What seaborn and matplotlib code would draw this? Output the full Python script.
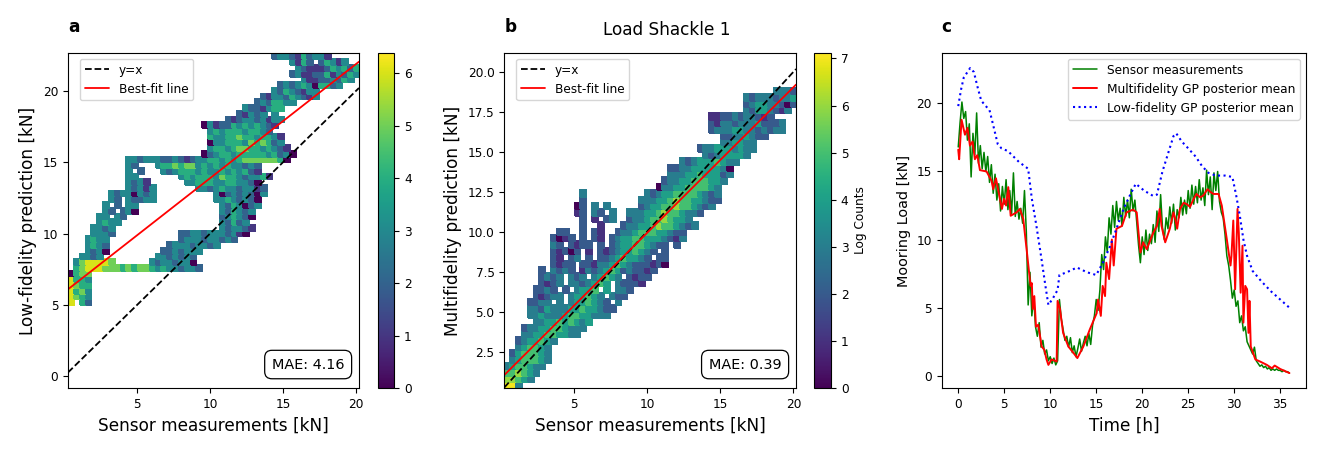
import numpy as np
import pandas as pd
import seaborn as sns
import matplotlib.pyplot as plt
from matplotlib.ticker import FormatStrFormatter

# ---------------- data ----------------
# 2D histograms: log counts in 0.4 kN cells, given as (row, first column, levels), '.' = empty
cell = 0.4

# panel a: sensor measurements vs low-fidelity prediction
lf_x0, lf_y0, lf_ncols, lf_nrows = 0.27, 5.0, 50, 44
lf_log_max = 6.39
lf_cells = [
    (43, 35, "2332142331"),
    (42, 38, "3142"), (42, 43, "24313"),
    (41, 39, "32111243424"),
    (40, 38, "231122413243"),
    (39, 40, "311223243"),
    (38, 36, "23234304423"),
    (37, 35, "32432133"),
    (36, 33, "2133243213"),
    (35, 32, "2324433"),
    (34, 30, "3221344"),
    (33, 29, "21323"), (33, 35, "3"),
    (32, 27, "2123323133"),
    (31, 23, "0312243434321"),
    (30, 24, "34344434432"),
    (29, 24, "4334454434431"),
    (28, 24, "0334443545423"),
    (27, 24, "34434554434321"),
    (26, 23, "0234434444434230"),
    (25, 10, "3323332232123"), (25, 23, "34434345555554"), (25, 37, "0"),
    (24, 10, "32"), (24, 15, "344545534343433232"),
    (23, 10, "3"), (23, 12, "2"), (23, 16, "32344434334343421"),
    (22, 10, "33"), (22, 19, "3434443544323341"),
    (21, 10, "3231"), (21, 20, "3344433443320"),
    (20, 10, "32313"), (20, 22, "332343323312"),
    (19, 7, "3233"), (19, 11, "0"), (19, 12, "323"), (19, 25, "302323203"),
    (18, 7, "32"), (18, 10, "3223"), (18, 14, "3"), (18, 25, "33432320"),
    (17, 6, "3"), (17, 8, "2.33"), (17, 26, "3243023"),
    (16, 6, "32"), (16, 9, "23"), (16, 11, "0"), (16, 26, "324323"),
    (15, 5, "33"), (15, 8, "32"), (15, 26, "234320"),
    (14, 5, "3433"), (14, 26, "32423"),
    (13, 4, "3323"), (13, 26, "323321"),
    (12, 4, "3332"), (12, 19, "223323332310"),
    (11, 3, "3433"), (11, 19, "2333233232"),
    (10, 3, "3432"), (10, 17, "233323323"),
    (9, 3, "323"), (9, 6, "0"), (9, 16, "2232333"),
    (8, 2, "3323"), (8, 15, "3323232"),
    (7, 1, "3566665"), (7, 14, "32332330"),
    (6, 1, "4566655545455434332332"),
    (5, 0, "0455"),
    (4, 0, "6443"),
    (3, 0, "6544"),
    (2, 0, "6453"),
    (1, 0, "6543"),
    (0, 0, "6.42"),
]
lf_fit = (0.80, 5.88)
lf_mae = "MAE: 4.16"

# panel b: sensor measurements vs multifidelity prediction
mf_x0, mf_y0, mf_ncols, mf_nrows = 0.26, 0.2, 50, 47
mf_log_max = 7.12
mf_cells = [
    (46, 46, "3332"),
    (45, 41, "323332334"),
    (44, 41, "234433202"),
    (43, 41, "32443213"),
    (42, 35, "11223233212"),
    (41, 35, "2133233342223"),
    (40, 35, "2333443323233"),
    (39, 37, "22334322"),
    (38, 37, "334433"),
    (37, 33, "2334443433"),
    (36, 34, "32344443"),
    (35, 30, "3234445433"),
    (34, 28, "22334444430"),
    (33, 28, "33344544423"),
    (32, 27, "23344555443"),
    (31, 26, "03344555543"),
    (30, 13, "3"), (30, 24, "3234455554323"),
    (29, 13, "2"), (29, 23, "33344565544322"),
    (28, 12, "02"), (28, 15, "3.3"), (28, 23, "2344556554323"),
    (27, 12, "12"), (27, 15, "32.3"), (27, 21, "3334456554332"),
    (26, 13, "2"), (26, 15, "1.23"), (26, 21, "23345565443"),
    (25, 13, "2"), (25, 16, "1"), (25, 20, "2334456554323"),
    (24, 9, "22"), (24, 13, "2"), (24, 15, "21"), (24, 19, "233455544322"),
    (23, 8, "2012"), (23, 13, "2.21"), (23, 18, "2344554443213"),
    (22, 8, "32.2122.2"), (22, 18, "2344554322.2"),
    (21, 8, "21202.1.21"), (21, 18, "23445432.2"),
    (20, 8, "21.23.2.2"), (20, 17, "23454432.22"),
    (19, 8, "2122.2213"), (19, 17, "34543222120"),
    (18, 6, "2"), (18, 8, "3232.132"), (18, 16, "3454232212"),
    (17, 6, "2323.323"), (17, 15, "34543.2122"),
    (16, 6, "2123.33"), (16, 13, "23454.32221"),
    (15, 5, "2232.2"), (15, 12, "3445.4.332"),
    (14, 5, "21233"), (14, 11, "344543.322"),
    (13, 4, "2233.3"), (13, 11, "3445432.3"),
    (12, 4, "332433"), (12, 10, "344544322"),
    (11, 4, "3343"), (11, 8, "3345544333"),
    (10, 5, "3344545434"),
    (9, 3, "23344554333"),
    (8, 3, "3344554433"),
    (7, 2, "2344543"),
    (6, 2, "345543"),
    (5, 1, "2455543"),
    (4, 1, "3455543"),
    (3, 0, "3455433"),
    (2, 0, "556543"),
    (1, 0, "66543"),
    (0, 0, "773"),
]
mf_fit = (0.912, 0.80)
mf_mae = "MAE: 0.39"

# panel c: time series
sensor_dt = 0.2
sensor_load = [
    16.8, 18.6, 20.1, 18.9, 19.4, 17.3, 18.5, 14.6, 17.8, 16.2,
    19.3, 15.6, 16.9, 15.2, 16.4, 15.0, 16.1, 14.2, 15.5, 13.4,
    14.8, 12.9, 14.1, 12.1, 13.9, 12.6, 14.4, 12.2, 13.6, 11.9,
    14.9, 11.7, 12.8, 11.5, 12.3, 11.2, 13.6, 10.6, 5.2, 7.6,
    4.4, 5.8, 3.6, 2.9, 3.9, 2.1, 2.6, 1.6, 1.9, 1.1,
    1.4, 0.9, 1.3, 0.8, 1.1, 5.6, 4.2, 3.4, 2.6, 2.9,
    2.1, 2.8, 1.7, 2.2, 1.4, 2.0, 2.7, 1.8, 2.4, 2.9,
    2.2, 3.1, 2.3, 3.7, 4.4, 5.6, 4.8, 6.3, 8.9, 7.8,
    10.2, 9.1, 11.6, 10.4, 12.5, 10.9, 12.8, 11.4, 12.3, 11.0,
    13.1, 11.7, 12.9, 11.6, 13.7, 12.1, 12.9, 11.3, 9.6, 8.3,
    10.2, 8.9, 10.7, 9.2, 10.4, 9.7, 11.1, 9.8, 12.1, 10.6,
    13.3, 10.9, 10.0, 11.6, 10.8, 12.4, 11.2, 12.6, 10.7, 12.2,
    11.6, 13.1, 11.8, 12.9, 11.9, 13.6, 12.3, 14.0, 12.6, 13.9,
    12.7, 14.4, 12.9, 13.8, 12.5, 15.1, 13.3, 14.6, 12.2, 14.9,
    13.6, 15.0, 12.8, 12.0, 11.6, 10.4, 8.8, 8.1, 7.0, 5.7,
    6.3, 5.1, 5.5, 3.9, 4.4, 3.3, 3.6, 2.5, 2.2, 1.9,
    1.6, 2.1, 1.1, 0.9, 0.7, 0.8, 0.6, 0.7, 0.5, 0.6,
    0.4, 0.5, 0.4, 0.5, 0.4, 0.4, 0.3, 0.4, 0.3, 0.3,
    0.2,
]
mf_time = [
    0.0, 0.1, 0.36, 0.73, 1.0, 1.27, 1.56, 1.81, 2.07, 2.36,
    3.08, 3.63, 3.8, 4.1, 4.53, 4.75, 4.97, 5.2, 5.44, 5.7,
    6.35, 6.7, 7.07, 7.43, 7.7, 7.87, 8.0, 8.1, 8.27, 8.45,
    8.7, 9.07, 9.36, 9.6, 9.8, 10.15, 10.7, 10.8, 11.06, 11.4,
    11.97, 12.5, 12.95, 13.6, 14.3, 15.05, 15.2, 15.5, 15.7, 15.96,
    16.1, 16.4, 16.7, 16.9, 17.2, 17.8, 18.3, 19.0, 19.4, 19.6,
    19.8, 20.1, 20.5, 20.9, 21.2, 21.6, 21.9, 22.1, 22.5, 23.0,
    23.4, 23.6, 23.8, 24.1, 24.5, 24.85, 25.2, 25.6, 25.9, 26.3,
    26.66, 27.1, 27.4, 27.75, 28.3, 28.65, 29.2, 29.6, 29.7, 29.9,
    30.1, 30.36, 30.5, 30.7, 30.9, 31.0, 31.2, 31.4, 31.55, 31.66,
    31.8, 32.3, 32.8, 33.55, 34.1, 34.4, 35.0, 36.0,
]
mf_load = [
    16.6, 15.9, 18.8, 17.7, 18.2, 16.9, 17.2, 15.9, 16.2, 15.1,
    15.0, 14.3, 13.7, 14.5, 13.0, 12.25, 13.0, 12.5, 13.85, 11.75,
    12.0, 12.25, 11.5, 9.3, 7.6, 6.6, 6.8, 4.9, 5.85, 3.6,
    3.75, 2.15, 1.9, 1.2, 0.8, 1.2, 1.05, 5.5, 4.9, 3.15,
    2.15, 1.7, 1.3, 2.15, 3.4, 4.6, 5.6, 4.4, 6.6, 5.85,
    8.3, 7.1, 10.0, 8.1, 10.8, 11.0, 12.0, 12.2, 12.0, 10.5,
    9.05, 9.8, 9.3, 10.0, 10.5, 11.0, 12.25, 11.0, 9.8, 10.8,
    12.0, 11.5, 10.8, 12.25, 12.7, 12.6, 12.4, 13.0, 13.35, 13.1,
    13.25, 13.7, 13.5, 13.35, 13.35, 12.5, 10.0, 8.1, 8.8, 11.4,
    6.35, 12.25, 10.5, 6.1, 9.55, 3.9, 6.6, 6.35, 3.15, 5.5,
    2.15, 1.2, 1.05, 0.8, 0.55, 0.75, 0.5, 0.2,
]
lf_time = [
    0.0, 0.3, 0.6, 1.0, 1.3, 1.7, 2.1, 2.5, 3.0, 3.4,
    3.8, 4.3, 4.7, 5.4, 6.0, 6.6, 7.2, 7.6, 8.0, 8.5,
    9.0, 9.5, 9.8, 10.3, 10.8, 11.0, 11.8, 12.9, 14.0, 15.0,
    15.8, 16.5, 17.2, 18.0, 18.7, 19.3, 20.2, 21.2, 21.6, 22.2,
    22.8, 23.4, 23.7, 24.3, 25.0, 25.8, 26.5, 27.2, 28.0, 29.0,
    29.8, 30.2, 30.6, 31.0, 31.4, 32.0, 33.0, 34.0, 35.0, 36.0,
]
lf_load = [
    19.8, 21.0, 21.9, 22.3, 22.6, 22.3, 21.2, 20.2, 19.8, 19.5,
    18.4, 17.0, 16.7, 16.5, 16.1, 15.7, 15.4, 15.2, 13.0, 11.0,
    8.8, 6.5, 5.2, 5.7, 6.3, 7.4, 7.6, 7.95, 7.6, 7.4,
    8.4, 9.5, 10.8, 12.3, 13.3, 14.1, 13.6, 13.2, 13.3, 15.0,
    16.3, 17.6, 17.8, 17.2, 16.7, 16.1, 15.4, 14.9, 14.7, 14.7,
    14.6, 13.3, 11.8, 10.0, 8.8, 7.7, 6.9, 6.2, 5.6, 5.0,
]


def cells_to_grid(cells, nrows, ncols):
    grid = np.full((nrows, ncols), np.nan)
    for row, col0, levels in cells:
        for k, ch in enumerate(levels):
            if ch != ".":
                grid[row, col0 + k] = float(ch)
    return np.ma.masked_invalid(grid)


# ---------------- style ----------------
sns.set_style("ticks", {"axes.edgecolor": "black", "text.color": "black",
                        "xtick.color": "black", "ytick.color": "black",
                        "axes.labelcolor": "black"})
plt.rcParams["font.family"] = ["DejaVu Sans"]
plt.rcParams["font.size"] = 8.7
plt.rcParams["xtick.labelsize"] = 8.7
plt.rcParams["ytick.labelsize"] = 8.7
plt.rcParams["legend.fontsize"] = 8.7

fig = plt.figure(figsize=(13.28, 4.53), dpi=100)
ax_a = fig.add_axes([0.0512, 0.1428, 0.2191, 0.7408])
cax_a = fig.add_axes([0.2844, 0.1428, 0.0125, 0.7408])
ax_b = fig.add_axes([0.3797, 0.1428, 0.2197, 0.7408])
cax_b = fig.add_axes([0.6130, 0.1428, 0.0128, 0.7408])
ax_c = fig.add_axes([0.7091, 0.1428, 0.2743, 0.7408])

panels = [
    (ax_a, cax_a, lf_cells, lf_x0, lf_y0, lf_nrows, lf_ncols, lf_log_max, lf_fit, lf_mae,
     (0.27, 20.2), (-0.84, 22.67), "Low-fidelity prediction [kN]"),
    (ax_b, cax_b, mf_cells, mf_x0, mf_y0, mf_nrows, mf_ncols, mf_log_max, mf_fit, mf_mae,
     (0.26, 20.18), (0.21, 21.2), "Multifidelity prediction [kN]"),
]

for ax, cax, cells, x0, y0, nr, nc, vmax, fit, mae, xl, yl, ylab in panels:
    grid = cells_to_grid(cells, nr, nc)
    xedges = x0 + cell * np.arange(nc + 1)
    yedges = y0 + cell * np.arange(nr + 1)
    mesh = ax.pcolormesh(xedges, yedges, grid, cmap="viridis", vmin=0, vmax=vmax,
                         edgecolors="face", linewidth=0.2)
    xs = np.array(xl)
    ax.plot(xs, xs, "k--", lw=1.3, label="y=x")
    ax.plot(xs, fit[0] * xs + fit[1], color="red", lw=1.3, label="Best-fit line")
    ax.set_xlim(xl)
    ax.set_ylim(yl)
    ax.set_xticks([5, 10, 15, 20])
    ax.set_xlabel("Sensor measurements [kN]", fontsize=12.2)
    ax.set_ylabel(ylab, fontsize=12.2)
    ax.legend(loc="upper left", bbox_to_anchor=(0.02, 1.0))
    ax.text(0.95, 0.05, mae, transform=ax.transAxes, ha="right", va="bottom",
            fontsize=10.4, bbox=dict(boxstyle="round,pad=0.5", facecolor="white",
                                     edgecolor="black", linewidth=0.9))
    cb = fig.colorbar(mesh, cax=cax, ticks=range(int(vmax) + 1))
    cb.ax.tick_params(labelsize=8.7)

ax_a.set_yticks([0, 5, 10, 15, 20])
ax_b.set_yticks(np.arange(2.5, 20.1, 2.5))
ax_b.yaxis.set_major_formatter(FormatStrFormatter("%.1f"))
cax_b.set_ylabel("Log Counts", fontsize=8.7)

# panel c
sensor_df = pd.DataFrame({"t": np.arange(len(sensor_load)) * sensor_dt, "load": sensor_load})
mf_df = pd.DataFrame({"t": mf_time, "load": mf_load})
lf_df = pd.DataFrame({"t": lf_time, "load": lf_load})
sns.lineplot(data=sensor_df, x="t", y="load", ax=ax_c, color="green", lw=1.1,
             estimator=None, label="Sensor measurements")
sns.lineplot(data=mf_df, x="t", y="load", ax=ax_c, color="red", lw=1.4,
             estimator=None, label="Multifidelity GP posterior mean")
sns.lineplot(data=lf_df, x="t", y="load", ax=ax_c, color="blue", lw=1.5, ls=":",
             estimator=None, label="Low-fidelity GP posterior mean")
ax_c.set_xticks(range(0, 36, 5))
ax_c.set_yticks([0, 5, 10, 15, 20])
ax_c.set_xlabel("Time [h]", fontsize=12.2)
ax_c.set_ylabel("Mooring Load [kN]", fontsize=10.4)
ax_c.legend(loc="upper right")

for ax, letter in [(ax_a, "a"), (ax_b, "b"), (ax_c, "c")]:
    ax.text(0.0, 1.05, letter, transform=ax.transAxes, fontsize=12.2,
            fontweight="bold", ha="left", va="bottom")
fig.text(0.502, 0.934, "Load Shackle 1", fontsize=12.2, ha="center", va="center")

fig.savefig("out.png", dpi=100)
